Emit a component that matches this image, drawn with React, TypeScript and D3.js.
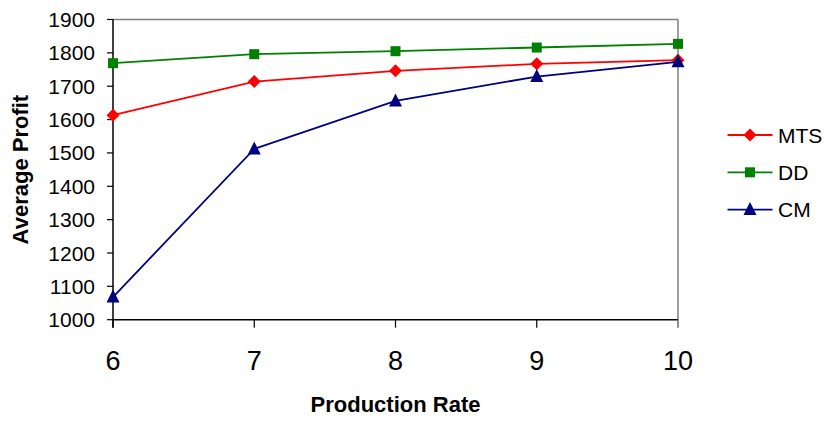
import React from "react";
import * as d3 from "d3";

const rates = [6, 7, 8, 9, 10];
const mts = [1613, 1714, 1746, 1767, 1778];
const dd = [1769, 1796, 1805, 1816, 1827];
const cm = [1068, 1512, 1656, 1729, 1773];
const yTicks = [1000, 1100, 1200, 1300, 1400, 1500, 1600, 1700, 1800, 1900];

const series = [
  { name: "MTS", values: mts, color: "#FF0000", marker: "diamond" },
  { name: "DD", values: dd, color: "#008000", marker: "square" },
  { name: "CM", values: cm, color: "#000080", marker: "triangle" },
];

const W = 826, H = 421;
const L = 113, R = 678, T = 19.5, B = 319.7;
const font = "Arial, 'Liberation Sans', Helvetica, sans-serif";

function Marker({ type, x, y, color }: { type: string; x: number; y: number; color: string }) {
  if (type === "diamond") {
    const s = 6.5;
    return <path d={`M${x},${y - s}L${x + s},${y}L${x},${y + s}L${x - s},${y}Z`} fill={color} />;
  }
  if (type === "square") {
    const s = 5;
    return <rect x={x - s} y={y - s} width={2 * s} height={2 * s} fill={color} />;
  }
  const s = 6.5;
  return <path d={`M${x},${y - s - 1}L${x + s},${y + s - 1}L${x - s},${y + s - 1}Z`} fill={color} />;
}

export default function App() {
  const x = d3.scaleLinear().domain([6, 10]).range([L, R]);
  const y = d3.scaleLinear().domain([1000, 1900]).range([B, T]);
  const line = d3
    .line<number>()
    .x((_, i) => x(rates[i]))
    .y((d) => y(d));

  return (
    <svg width={W} height={H} style={{ position: "absolute", left: 0, top: 0 }} fontFamily={font}>
      <rect width={W} height={H} fill="#fff" />
      {/* frame */}
      <line x1={L} x2={R} y1={T} y2={T} stroke="#808080" strokeWidth={1.5} />
      <line x1={R} x2={R} y1={T} y2={B + 8} stroke="#808080" strokeWidth={1.5} />
      <line x1={L} x2={L} y1={T} y2={B + 8} stroke="#000" strokeWidth={1.5} />
      <line x1={L} x2={R} y1={B} y2={B} stroke="#000" strokeWidth={1.5} />
      {yTicks.map((t) => (
        <g key={t}>
          <line x1={L - 6} x2={L} y1={y(t)} y2={y(t)} stroke="#000" strokeWidth={1.2} />
          <text x={95} y={y(t)} dy="0.36em" textAnchor="end" fontSize={21} fill="#000">
            {t}
          </text>
        </g>
      ))}
      {rates.map((r) => (
        <g key={r}>
          <line x1={x(r)} x2={x(r)} y1={B} y2={B + 8} stroke={r === 10 ? "#808080" : "#000"} strokeWidth={1.2} />
          <text x={x(r)} y={370} textAnchor="middle" fontSize={27} fill="#000">
            {r}
          </text>
        </g>
      ))}
      <text x={(L + R) / 2} y={411.5} textAnchor="middle" fontSize={22} fontWeight="bold">
        Production Rate
      </text>
      <text
        transform={`translate(28,${(T + B) / 2}) rotate(-90)`}
        textAnchor="middle"
        fontSize={22}
        fontWeight="bold"
      >
        Average Profit
      </text>
      {series.map((s) => (
        <g key={s.name}>
          <path d={line(s.values) || ""} fill="none" stroke={s.color} strokeWidth={1.8} />
          {s.values.map((v, i) => (
            <Marker key={i} type={s.marker} x={x(rates[i])} y={y(v)} color={s.color} />
          ))}
        </g>
      ))}
      {series.map((s, i) => {
        const ly = 135 + i * 37.3;
        return (
          <g key={s.name}>
            <line x1={727.5} x2={772.5} y1={ly} y2={ly} stroke={s.color} strokeWidth={1.8} />
            <Marker type={s.marker} x={750} y={ly} color={s.color} />
            <text x={778} y={ly} dy="0.36em" fontSize={21} fill="#000">
              {s.name}
            </text>
          </g>
        );
      })}
    </svg>
  );
}
